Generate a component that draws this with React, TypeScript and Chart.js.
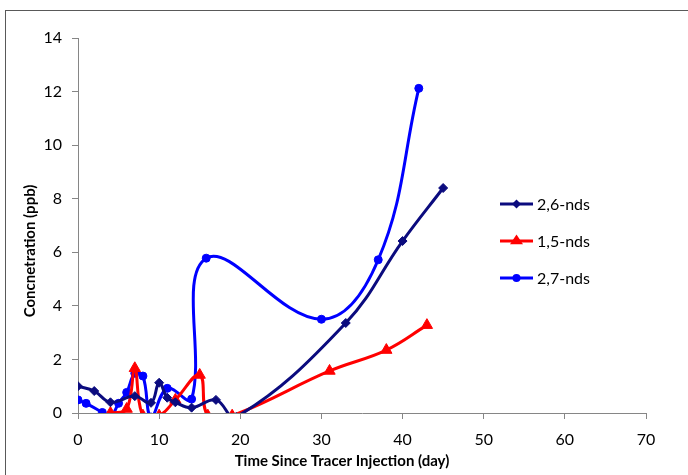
import { useEffect, useRef } from "react";
import { Chart, registerables } from "chart.js";

Chart.register(...registerables);

// ---- data ----
const seriesNames = ["2,6-nds", "1,5-nds", "2,7-nds"];

const days26 = [0, 2, 4, 7, 9, 10, 11, 12, 14, 17, 19.5, 33, 40, 45];
const conc26 = [1.0, 0.82, 0.4, 0.63, 0.38, 1.13, 0.57, 0.4, 0.2, 0.49, -0.15, 3.36, 6.42, 8.4];

const days15 = [4, 6, 7, 8, 10, 12, 15, 16, 19, 31, 38, 43];
const conc15 = [0, 0.15, 1.67, -0.1, -0.1, 0.49, 1.42, -0.1, -0.1, 1.57, 2.35, 3.28];

const days27 = [0, 1, 3, 4, 5, 6, 7, 8, 9, 11, 14, 15.8, 30, 37, 42];
const conc27 = [0.49, 0.36, 0.02, -0.15, 0.36, 0.77, 1.48, 1.38, -0.15, 0.92, 0.52, 5.78, 3.5, 5.72, 12.12];

const xTickValues = [0, 10, 20, 30, 40, 50, 60, 70];
const yTickValues = [0, 2, 4, 6, 8, 10, 12, 14];

const xTitle = "Time Since Tracer Injection (day)";
const yTitle = "Concnetration (ppb)";

const colors = ["#0b0b7e", "#ff0000", "#0000ff"];
const pointStyles = ["rectRot", "triangle", "circle"];
const pointRadii = [4.5, 6.5, 4];

const FONT = "Lato, 'Open Sans', sans-serif";

function toPoints(xs: number[], ys: number[]) {
  return xs.map((x, i) => ({ x, y: ys[i] }));
}

function drawMarker(ctx: CanvasRenderingContext2D, style: string, x: number, y: number, r: number) {
  ctx.beginPath();
  if (style === "circle") {
    ctx.arc(x, y, r, 0, Math.PI * 2);
  } else if (style === "rectRot") {
    ctx.moveTo(x, y - r);
    ctx.lineTo(x + r, y);
    ctx.lineTo(x, y + r);
    ctx.lineTo(x - r, y);
    ctx.closePath();
  } else {
    const h = r * 1.5;
    ctx.moveTo(x, y - h * 0.66);
    ctx.lineTo(x + r, y + h * 0.34);
    ctx.lineTo(x - r, y + h * 0.34);
    ctx.closePath();
  }
  ctx.fill();
}

const overlayPlugin = {
  id: "overlay",
  afterDraw(chart: any) {
    const ctx: CanvasRenderingContext2D = chart.ctx;
    ctx.save();
    // axis titles
    ctx.fillStyle = "#000";
    ctx.font = `bold 15px ${FONT}`;
    ctx.textAlign = "center";
    ctx.textBaseline = "middle";
    ctx.fillText(xTitle, 342, 461);
    ctx.save();
    ctx.translate(30, 251);
    ctx.rotate(-Math.PI / 2);
    ctx.fillText(yTitle, 0, 0);
    ctx.restore();

    // legend
    chart.data.datasets.forEach((ds: any, i: number) => {
      const y = 204 + 37 * i;
      ctx.strokeStyle = colors[i];
      ctx.fillStyle = colors[i];
      ctx.lineWidth = 3;
      ctx.beginPath();
      ctx.moveTo(500, y);
      ctx.lineTo(533, y);
      ctx.stroke();
      drawMarker(ctx, pointStyles[i], 516.5, y, pointRadii[i]);
      ctx.fillStyle = "#000";
      ctx.font = `16px ${FONT}`;
      ctx.textAlign = "left";
      ctx.textBaseline = "middle";
      ctx.fillText(ds.label, 537, y + 1);
    });
    ctx.restore();
  },
};

export default function App() {
  const canvasRef = useRef<HTMLCanvasElement | null>(null);

  useEffect(() => {
    if (!canvasRef.current) return;
    const seriesData = [
      toPoints(days26, conc26),
      toPoints(days15, conc15),
      toPoints(days27, conc27),
    ];
    const chart = new Chart(canvasRef.current, {
      type: "line",
      data: {
        datasets: seriesData.map((d, i) => ({
          label: seriesNames[i],
          data: d,
          borderColor: colors[i],
          backgroundColor: colors[i],
          borderWidth: 3,
          pointStyle: pointStyles[i] as any,
          pointRadius: pointRadii[i],
          pointBorderWidth: 1,
          pointBackgroundColor: colors[i],
          pointBorderColor: colors[i],
          tension: 0.4,
          fill: false,
        })),
      },
      options: {
        animation: false,
        responsive: false,
        events: [],
        layout: { padding: { top: 38, right: 42, bottom: 0, left: 0 } },
        elements: { line: { capBezierPoints: false } },
        plugins: {
          legend: { display: false },
          tooltip: { enabled: false },
          title: { display: false },
        },
        scales: {
          x: {
            type: "linear",
            min: 0,
            max: 70,
            afterBuildTicks: (scale: any) => {
              scale.ticks = xTickValues.map((v) => ({ value: v }));
            },
            afterFit: (scale: any) => {
              scale.height = 62;
            },
            grid: {
              drawOnChartArea: false,
              drawTicks: true,
              tickLength: 6,
              color: "#868686",
            },
            border: { display: true, color: "#868686", width: 1 },
            ticks: {
              color: "#000",
              font: { family: FONT, size: 16 },
              padding: 11,
              maxRotation: 0,
            },
          },
          y: {
            type: "linear",
            min: 0,
            max: 14,
            afterBuildTicks: (scale: any) => {
              scale.ticks = yTickValues.map((v) => ({ value: v }));
            },
            afterFit: (scale: any) => {
              scale.width = 78;
            },
            grid: {
              drawOnChartArea: false,
              drawTicks: true,
              tickLength: 6,
              color: "#868686",
            },
            border: { display: true, color: "#868686", width: 1 },
            ticks: {
              color: "#000",
              font: { family: FONT, size: 16 },
              padding: 10,
            },
          },
        },
      },
      plugins: [overlayPlugin],
    });
    return () => chart.destroy();
  }, []);

  return (
    <div style={{ position: "fixed", left: 0, top: 0, width: 688, height: 475, background: "#fff", overflow: "hidden" }}>
      <div
        style={{
          position: "absolute",
          left: 5,
          top: 10,
          width: 700,
          height: 480,
          border: "1px solid #595959",
          boxSizing: "border-box",
        }}
      />
      <canvas ref={canvasRef} width={688} height={475} style={{ position: "absolute", left: 0, top: 0, width: 688, height: 475 }} />
    </div>
  );
}
